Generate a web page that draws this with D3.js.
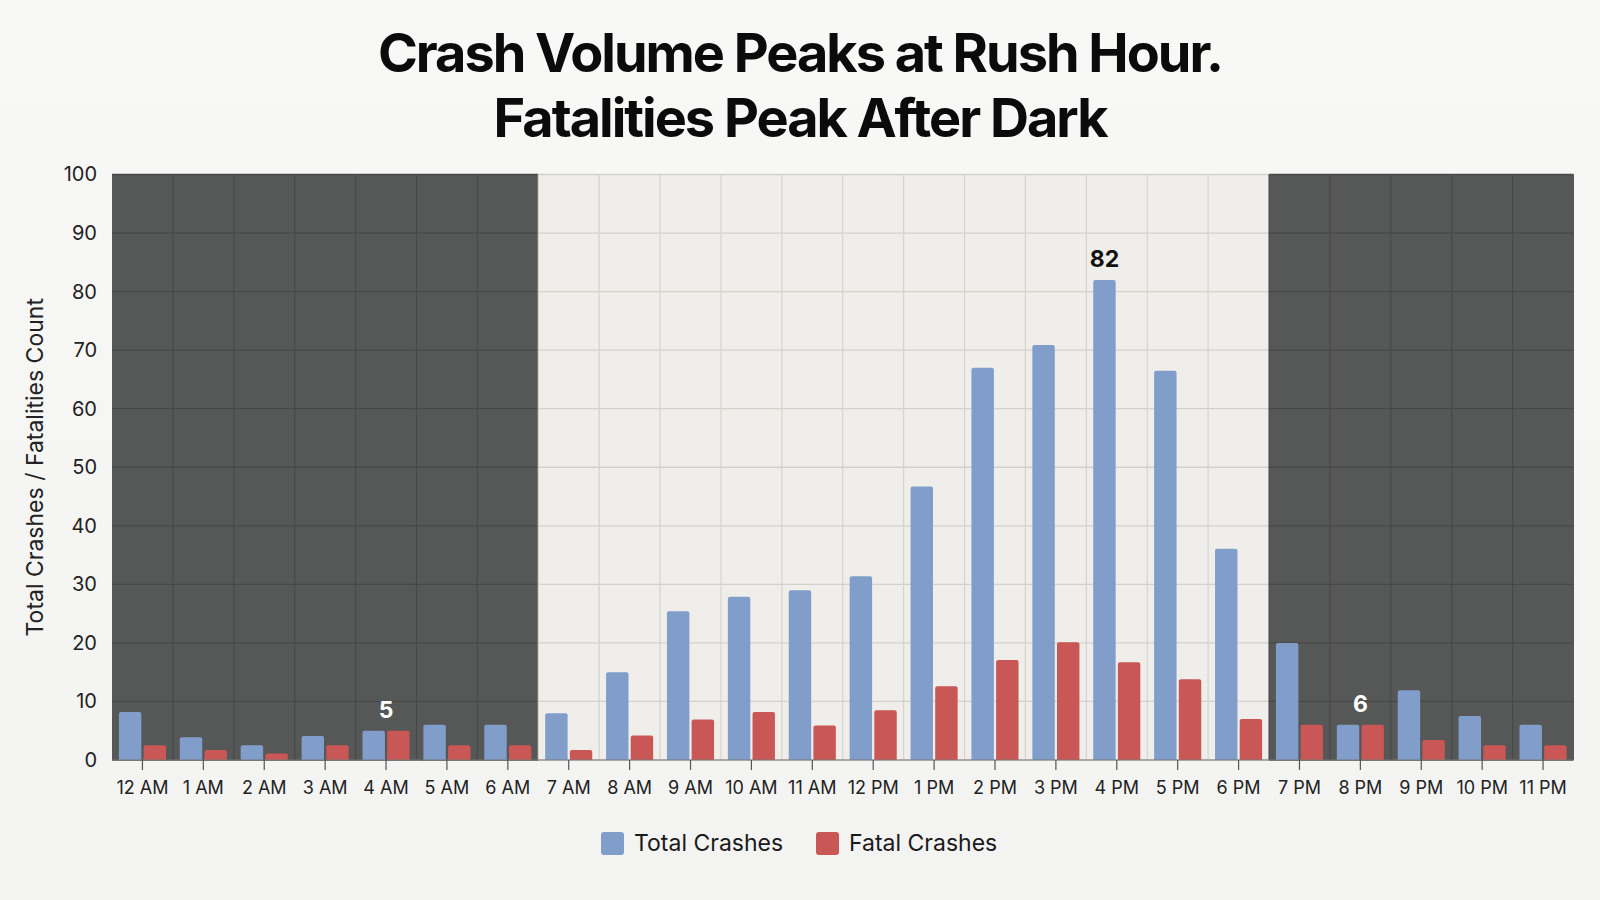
<html>
<head>
<script src="https://cdnjs.cloudflare.com/ajax/libs/d3/7.8.5/d3.min.js"></script>
<style>
  body { margin: 0; background: #f6f6f5; }
  svg { display: block; font-family: Inter, "Liberation Sans", sans-serif; }
</style>
</head>
<body>
<svg id="chart" width="1600" height="900"></svg>
<script>
// data
let hours = ["12 AM","1 AM","2 AM","3 AM","4 AM","5 AM","6 AM","7 AM","8 AM","9 AM","10 AM","11 AM",
             "12 PM","1 PM","2 PM","3 PM","4 PM","5 PM","6 PM","7 PM","8 PM","9 PM","10 PM","11 PM"];
let totalCrashes = [8.2, 3.9, 2.5, 4.1, 5, 6, 6, 8, 15, 25.4, 27.9, 29, 31.4, 46.7, 67, 70.9, 82, 66.5, 36.1, 20, 6, 11.9, 7.5, 6];
let fatalCrashes = [2.5, 1.7, 1.1, 2.5, 5, 2.5, 2.5, 1.7, 4.2, 6.9, 8.2, 5.9, 8.5, 12.6, 17.1, 20.1, 16.7, 13.8, 7, 6, 6, 3.4, 2.5, 2.5];
let darkHours = ["12 AM","1 AM","2 AM","3 AM","4 AM","5 AM","6 AM","7 PM","8 PM","9 PM","10 PM","11 PM"];
let yTicks = [0,10,20,30,40,50,60,70,80,90,100];
let seriesNames = ["Total Crashes", "Fatal Crashes"];
let callouts = [
    {hour: "4 AM", value: 5, text: "5", anchor: "band", color: "#ffffff"},
    {hour: "4 PM", value: 82, text: "82", anchor: "total", color: "#111111"},
    {hour: "8 PM", value: 6, text: "6", anchor: "band", color: "#ffffff"}
];

var blue = "#819ecb", red = "#c95756";
var plotLeft = 112, plotRight = 1573.5, plotTop = 174.5, plotBottom = 760;

var svg = d3.select("#chart");

var bg = svg.append("defs").append("linearGradient").attr("id", "bg").attr("x1", 0).attr("y1", 0).attr("x2", 0).attr("y2", 1);
bg.append("stop").attr("offset", "0%").attr("stop-color", "#f8f8f7");
bg.append("stop").attr("offset", "100%").attr("stop-color", "#f3f3f2");
svg.append("rect").attr("width", 1600).attr("height", 900).attr("fill", "url(#bg)");

var x = d3.scaleBand().domain(hours).range([plotLeft, plotRight]).padding(0);
var inner = d3.scaleBand().domain(["total","fatal"]).range([0, x.bandwidth()])
    .paddingInner(0.09).paddingOuter(0.28);
var y = d3.scaleLinear().domain([0, 100]).range([plotBottom, plotTop]);

// day / night backgrounds
svg.append("g").selectAll("rect")
    .data(hours)
    .enter()
    .append("rect")
    .attr("x", d => x(d))
    .attr("y", y(100))
    .attr("width", x.bandwidth() + 0.5)
    .attr("height", y(0) - y(100))
    .attr("fill", d => darkHours.indexOf(d) > -1 ? "#565757" : "#efeeea");

// grid: per band so line colour follows the shading
var grid = svg.append("g");
hours.forEach(h => {
    var dark = darkHours.indexOf(h) > -1;
    var c = dark ? "#474848" : "#d3d1cc";
    yTicks.forEach(t => {
        grid.append("line")
            .attr("x1", x(h)).attr("x2", x(h) + x.bandwidth())
            .attr("y1", y(t)).attr("y2", y(t))
            .attr("stroke", c).attr("stroke-width", 1.3);
    });
    if (h != hours[0]) {
        grid.append("line")
            .attr("x1", x(h)).attr("x2", x(h))
            .attr("y1", y(100)).attr("y2", y(0))
            .attr("stroke", c).attr("stroke-width", 1.1);
    }
});

// bars
var rows = hours.map((h, i) => ({hour: h, total: totalCrashes[i], fatal: fatalCrashes[i]}));
var groups = svg.append("g").selectAll("g")
    .data(rows)
    .enter()
    .append("g")
    .attr("transform", d => "translate(" + x(d.hour) + ",0)");

groups.selectAll("path")
    .data(d => [{key: "total", v: d.total}, {key: "fatal", v: d.fatal}])
    .enter()
    .append("path")
    .attr("fill", d => d.key == "total" ? blue : red)
    .attr("d", d => {
        var x0 = inner(d.key), w = inner.bandwidth(), y0 = y(d.v), r = 2;
        return "M" + x0 + "," + y(0) + "V" + (y0 + r) + "Q" + x0 + "," + y0 + " " + (x0 + r) + "," + y0 +
               "H" + (x0 + w - r) + "Q" + (x0 + w) + "," + y0 + " " + (x0 + w) + "," + (y0 + r) + "V" + y(0) + "Z";
    });

// baseline
svg.append("line")
    .attr("x1", plotLeft).attr("x2", plotRight)
    .attr("y1", y(0)).attr("y2", y(0))
    .attr("stroke", "#7a7a7a").attr("stroke-width", 1.2);

// axes
var yAxis = svg.append("g")
    .attr("transform", "translate(" + plotLeft + ",0)")
    .call(d3.axisLeft(y).tickValues(yTicks).tickSize(0).tickPadding(15));
yAxis.select(".domain").remove();
yAxis.selectAll("text").attr("font-size", 20).attr("fill", "#222").attr("font-family", "Inter, sans-serif");

var xAxis = svg.append("g")
    .attr("transform", "translate(0," + y(0) + ")")
    .call(d3.axisBottom(x).tickSize(10).tickSizeOuter(0).tickPadding(11));
xAxis.select(".domain").remove();
xAxis.selectAll("line").attr("stroke", "#555").attr("stroke-width", 1.2);
xAxis.selectAll("text").attr("font-size", 18).attr("fill", "#222").attr("font-family", "Inter, sans-serif");

svg.append("text")
    .attr("transform", "translate(43," + ((plotTop + plotBottom) / 2) + ") rotate(-90)")
    .attr("text-anchor", "middle")
    .attr("font-size", 23)
    .attr("fill", "#222")
    .text("Total Crashes / Fatalities Count");

// callouts
svg.append("g").selectAll("text")
    .data(callouts)
    .enter()
    .append("text")
    .attr("x", d => d.anchor == "band" ? x(d.hour) + x.bandwidth() / 2 : x(d.hour) + inner("total") + inner.bandwidth() / 2)
    .attr("y", d => y(d.value) - 13)
    .attr("text-anchor", "middle")
    .attr("font-size", 23)
    .attr("font-weight", 700)
    .attr("fill", d => d.color)
    .text(d => d.text);

// title
var title = svg.append("g").attr("font-weight", 700).attr("fill", "#0b0b0b")
    .attr("text-anchor", "middle").attr("font-size", 54).attr("letter-spacing", -2);
title.append("text").attr("x", 800).attr("y", 72).text("Crash Volume Peaks at Rush Hour.");
title.append("text").attr("x", 800).attr("y", 137).text("Fatalities Peak After Dark");

// legend
var legend = svg.append("g").attr("transform", "translate(601,832)");
var lx = [0, 215];
seriesNames.forEach((n, i) => {
    legend.append("rect").attr("x", lx[i]).attr("y", 0).attr("width", 23).attr("height", 23)
        .attr("rx", 3).attr("fill", i == 0 ? blue : red);
    legend.append("text").attr("x", lx[i] + 33).attr("y", 19).attr("font-size", 23)
        .attr("fill", "#1a1a1a").text(n);
});
</script>
</body>
</html>
